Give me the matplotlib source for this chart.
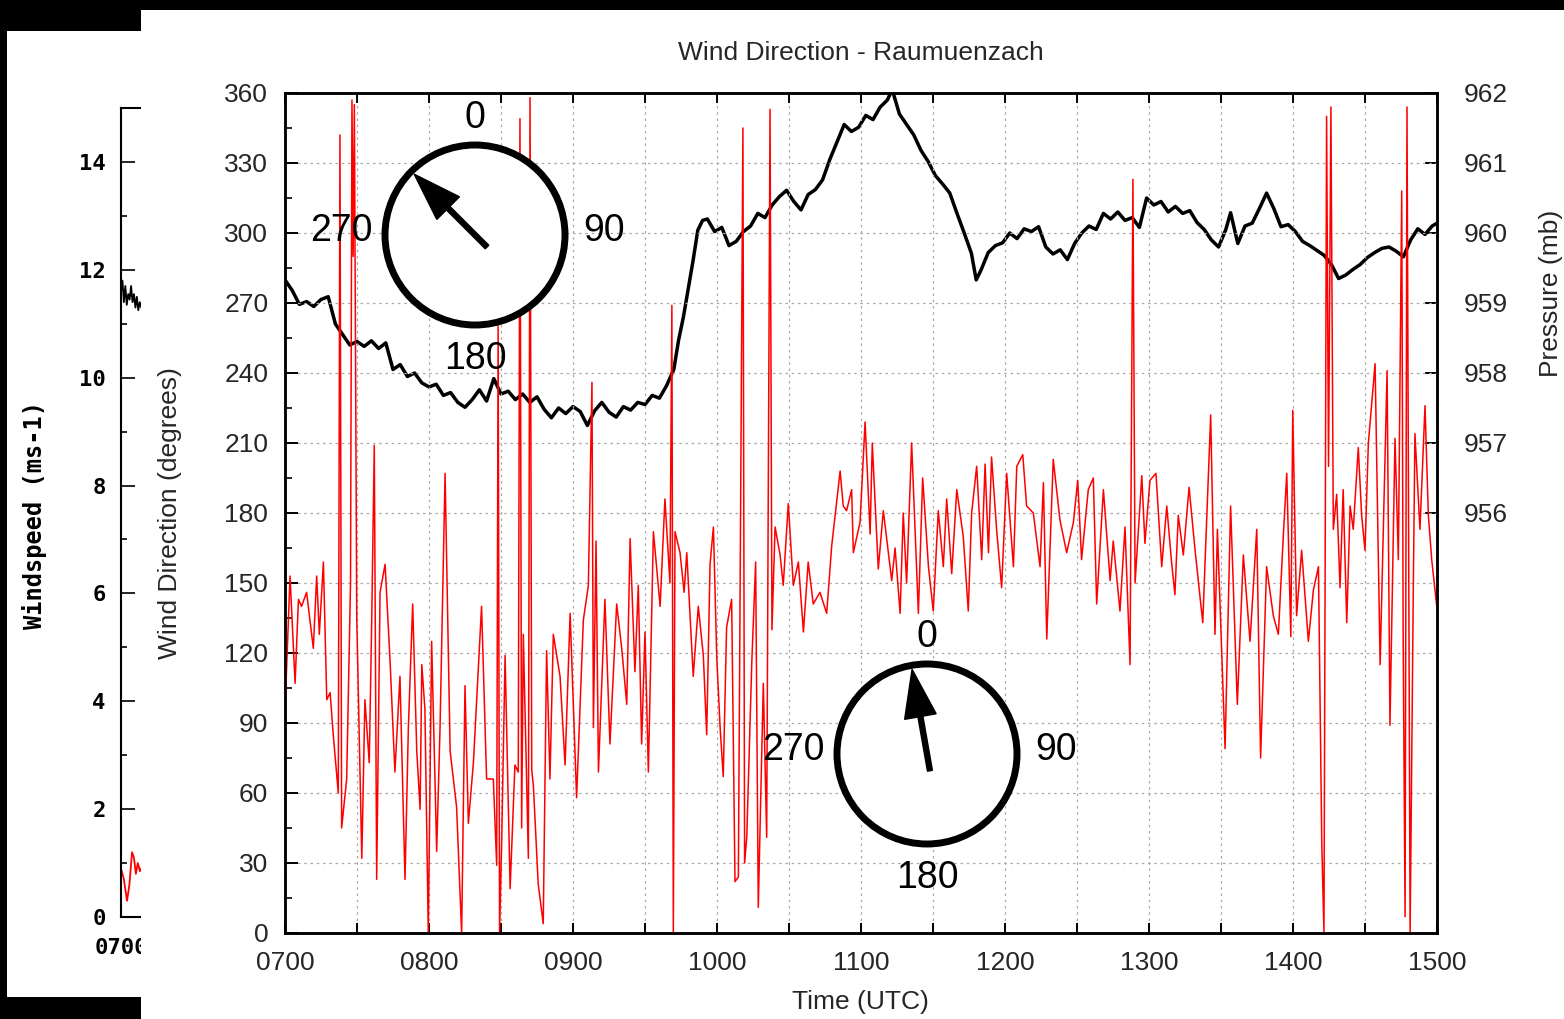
import matplotlib
matplotlib.use("Agg")
import matplotlib.pyplot as plt
from matplotlib.patches import Rectangle, Circle
from matplotlib.ticker import MultipleLocator
import numpy as np

plt.rcParams['font.family'] = ['Liberation Sans', 'DejaVu Sans']

W, H = 1564, 1019

# --- wind direction (red), minutes after 0700 ---
dir_min = [0, 2.1, 4.2, 5.6, 6.9, 9.0, 11.8, 13.2, 14.3, 16.0,
           17.4, 18.8, 20.1, 22.2, 22.9, 23.6, 25.7, 27.3, 27.9, 28.4,
           28.9, 29.9, 32.0, 33.3, 35.1, 36.1, 37.2, 38.2, 39.6, 41.7,
           43.8, 45.8, 47.9, 50.0, 51.4, 53.2, 54.9, 56.3, 57.0, 58.3,
           59.7, 61.1, 63.2, 64.6, 66.7, 68.8, 71.5, 73.6, 75.0, 76.4,
           78.5, 81.9, 84.0, 86.8, 88.2, 88.8, 89.4, 90.3, 91.7, 93.8,
           95.8, 97.2, 97.9, 98.6, 99.3, 101.4, 102.1, 102.8, 103.5, 105.5,
           107.6, 109.0, 110.4, 111.8, 114.6, 116.7, 118.8, 121.5, 124.3, 126.4,
           127.9, 128.5, 129.6, 130.6, 133.3, 135.4, 138.2, 140.3, 142.4, 143.8,
           145.8, 147.2, 148.6, 150.0, 151.4, 153.5, 156.3, 158.3, 160.4, 161.2,
           161.8, 162.5, 164.6, 166.3, 167.4, 170.1, 172.2, 174.3, 175.7, 177.1,
           178.5, 179.9, 181.3, 182.6, 184.0, 186.1, 187.5, 188.9, 190.8, 191.5,
           192.4, 194.5, 196.1, 197.2, 199.3, 200.7, 202.1, 202.9, 204.2, 206.3,
           207.6, 209.7, 211.8, 213.9, 216.0, 218.0, 220.1, 222.9, 225.7, 227.8,
           231.3, 232.6, 234.0, 236.1, 236.8, 239.6, 241.7, 243.8, 244.7, 247.2,
           249.3, 252.8, 254.2, 256.3, 257.6, 259.0, 261.1, 263.9, 265.7, 268.1,
           270.1, 272.2, 274.3, 275.7, 277.8, 279.9, 282.6, 284.7, 286.1, 288.2,
           290.3, 291.7, 293.1, 294.4, 296.5, 298.6, 300.7, 303.5, 304.9, 307.4,
           309.0, 311.8, 314.6, 316.0, 317.4, 320.1, 322.9, 325.7, 328.5, 330.3,
           331.9, 334.7, 336.8, 338.2, 341.0, 343.8, 345.1, 347.9, 350.0, 352.1,
           353.3, 354.2, 357.0, 358.3, 360.4, 362.9, 365.3, 367.4, 369.4, 370.8,
           372.2, 374.3, 376.7, 379.2, 382.4, 384.0, 385.7, 387.5, 388.5, 391.7,
           394.0, 396.8, 399.3, 402.1, 404.9, 406.5, 409.0, 411.8, 413.9, 416.0,
           417.4, 419.1, 419.9, 421.5, 423.6, 426.4, 428.5, 430.6, 432.0, 432.9,
           434.0, 434.8, 435.8, 436.8, 438.2, 439.6, 440.9, 442.4, 443.8, 445.1,
           447.2, 448.6, 450.0, 451.4, 454.2, 456.3, 459.2, 460.4, 462.5, 463.9,
           465.3, 465.9, 466.7, 467.5, 468.8, 470.1, 470.8, 472.9, 475.0, 476.4,
           477.8, 480.0]
dir_deg = [95, 153, 107, 143, 140, 146, 122, 153, 128, 159,
           100, 103, 85, 60, 342, 45, 66, 150, 357, 290,
           355, 135, 32, 100, 73, 132, 209, 23, 146, 158,
           116, 69, 110, 23, 88, 141, 78, 53, 115, 96,
           0, 125, 35, 88, 197, 78, 54, 0, 106, 47,
           73, 140, 66, 66, 29, 260, 0, 40, 119, 19,
           72, 69, 349, 45, 128, 32, 358, 70, 63, 21,
           4, 121, 66, 128, 110, 72, 137, 58, 134, 149,
           236, 88, 168, 69, 143, 81, 141, 122, 98, 169,
           112, 149, 81, 129, 69, 172, 140, 186, 150, 269,
           0, 172, 163, 146, 163, 110, 140, 119, 85, 158,
           174, 118, 88, 67, 131, 143, 22, 24, 345, 30,
           41, 116, 159, 11, 107, 41, 353, 130, 174, 162,
           149, 184, 149, 159, 129, 159, 141, 146, 137, 166,
           198, 183, 181, 190, 163, 176, 219, 171, 210, 156,
           181, 151, 165, 137, 180, 150, 210, 137, 195, 157,
           138, 181, 157, 186, 154, 190, 170, 138, 180, 200,
           160, 201, 163, 204, 173, 148, 197, 157, 200, 205,
           183, 180, 157, 193, 126, 203, 177, 163, 176, 194,
           160, 190, 195, 141, 190, 151, 168, 138, 174, 115,
           323, 150, 196, 167, 194, 197, 157, 183, 159, 145,
           179, 162, 191, 164, 133, 176, 222, 128, 173, 79,
           183, 98, 162, 125, 173, 75, 157, 136, 128, 171,
           197, 127, 224, 136, 164, 125, 147, 157, 38, 0,
           350, 200, 354, 173, 188, 148, 190, 133, 183, 173,
           208, 179, 164, 210, 244, 115, 241, 89, 212, 160,
           318, 127, 7, 354, 0, 145, 214, 173, 226, 179,
           160, 139]

# --- pressure (black), minutes after 0700 ---
pres_min = [0, 3, 6, 9, 12, 15, 18, 21, 24, 27,
            30, 33, 36, 39, 42, 45, 48, 51, 54, 57,
            60, 63, 66, 69, 72, 75, 78, 81, 84, 87,
            90, 93, 96, 99, 102, 105, 108, 111, 114, 117,
            120, 123, 126, 129, 132, 135, 138, 141, 144, 147,
            150, 153, 156, 159, 162, 164, 166, 168, 170, 172,
            174, 176, 179, 182, 185, 188, 191, 194, 197, 200,
            203, 206, 209, 212, 215, 218, 221, 224, 227, 230,
            233, 236, 239, 242, 245, 248, 251, 253, 256, 259,
            262, 265, 268, 271, 274, 277, 280, 283, 286, 288,
            290, 293, 296, 299, 302, 305, 308, 311, 314, 317,
            320, 323, 326, 329, 332, 335, 338, 341, 344, 347,
            350, 353, 356, 359, 362, 365, 368, 371, 374, 377,
            380, 383, 386, 389, 392, 394, 397, 400, 403, 406,
            409, 412, 415, 418, 421, 424, 427, 430, 433, 436,
            439, 442, 445, 448, 451, 454, 457, 460, 463, 466,
            469, 472, 475, 478, 480]
pres_mb = [959.33, 959.18, 958.98, 959.02, 958.95, 959.05, 959.09, 958.70, 958.55, 958.40,
           958.45, 958.38, 958.46, 958.35, 958.43, 958.05, 958.12, 957.95, 958.00, 957.86,
           957.80, 957.84, 957.68, 957.72, 957.58, 957.51, 957.62, 957.76, 957.60, 957.92,
           957.70, 957.74, 957.62, 957.70, 957.58, 957.66, 957.48, 957.36, 957.50, 957.42,
           957.52, 957.45, 957.25, 957.46, 957.58, 957.44, 957.37, 957.52, 957.47, 957.58,
           957.55, 957.68, 957.64, 957.82, 958.05, 958.47, 958.80, 959.20, 959.60, 960.04,
           960.18, 960.20, 960.02, 960.08, 959.82, 959.88, 960.02, 960.10, 960.28, 960.22,
           960.40, 960.52, 960.61, 960.45, 960.33, 960.55, 960.62, 960.76, 961.05, 961.30,
           961.55, 961.45, 961.51, 961.68, 961.62, 961.80, 961.90, 962.05, 961.70, 961.55,
           961.40, 961.18, 961.02, 960.82, 960.70, 960.57, 960.28, 960.00, 959.71, 959.33,
           959.47, 959.72, 959.82, 959.86, 960.00, 959.92, 960.06, 960.02, 960.09, 959.80,
           959.70, 959.76, 959.62, 959.85, 960.00, 960.10, 960.05, 960.28, 960.20, 960.30,
           960.18, 960.22, 960.08, 960.50, 960.40, 960.45, 960.30, 960.38, 960.28, 960.32,
           960.15, 960.05, 959.90, 959.80, 960.05, 960.29, 959.85, 960.10, 960.14, 960.35,
           960.57, 960.35, 960.09, 960.12, 960.02, 959.88, 959.82, 959.75, 959.68, 959.55,
           959.35, 959.40, 959.48, 959.55, 959.65, 959.72, 959.78, 959.80, 959.74, 959.66,
           959.90, 960.06, 959.98, 960.10, 960.14]

# --- windspeed chart behind (only its first minutes show) ---
ws_min = [0, 0.6, 1.2, 1.8, 2.4, 3.0, 3.6, 4.2, 4.8, 5.4, 6.0, 6.6, 7.2, 7.8, 8.5]
ws_black = [11.6, 11.8, 11.4, 11.7, 11.35, 11.55, 11.45, 11.7, 11.4, 11.55, 11.3, 11.5, 11.25, 11.4, 11.3]
ws_red_min = [0, 1.2, 2.5, 3.5, 4.6, 5.4, 6.2, 7.0, 7.9, 8.5]
ws_red = [0.9, 0.7, 0.3, 0.6, 1.2, 1.1, 0.8, 1.0, 0.85, 0.9]

hour_ticks = [0, 60, 120, 180, 240, 300, 360, 420, 480]
hour_labels = ['0700', '0800', '0900', '1000', '1100', '1200', '1300', '1400', '1500']
deg_ticks = [0, 30, 60, 90, 120, 150, 180, 210, 240, 270, 300, 330, 360]
pres_ticks = [956, 957, 958, 959, 960, 961, 962]
ws_ticks = [0, 2, 4, 6, 8, 10, 12, 14]

# compass insets: centre (pixels), shown direction
compass_xy = [(475, 235), (927, 754)]
compass_dirs = [315, 350]

txt = '#262626'

fig = plt.figure(figsize=(W / 100, H / 100), dpi=100, facecolor='black')

# white paper panels on the black background
fig.add_artist(Rectangle((7 / W, (H - 997) / H), 134 / W, 966 / H, transform=fig.transFigure,
                         facecolor='white', edgecolor='none', zorder=-1))
fig.add_artist(Rectangle((141 / W, 0), (W - 141) / W, (H - 10) / H, transform=fig.transFigure,
                         facecolor='white', edgecolor='none', zorder=1))

# partially hidden windspeed chart
mono = dict(family='DejaVu Sans Mono', weight='bold', size=16)
axw = fig.add_axes([121 / W, (H - 917) / H, 1152 / W, 809 / H], zorder=0)
axw.plot(ws_min, ws_black, color='black', lw=1.3)
axw.plot(ws_red_min, ws_red, color='red', lw=1.3)
axw.set_xlim(0, 480)
axw.set_ylim(0, 15)
axw.set_yticks(ws_ticks)
axw.set_yticklabels([str(v) for v in ws_ticks], fontdict=mono)
axw.yaxis.set_minor_locator(MultipleLocator(1))
axw.set_xticks([0])
axw.set_xticklabels(['0700'], fontdict=mono)
axw.tick_params(axis='y', which='major', direction='in', length=10, width=1.2, pad=11)
axw.tick_params(axis='y', which='minor', direction='in', length=4.5, width=1.2)
axw.tick_params(axis='x', direction='in', length=0, pad=15)
for s in axw.spines.values():
    s.set_linewidth(1.5)
axw.text(-0.0747, 0.497, 'Windspeed (ms-1)', transform=axw.transAxes, rotation=90,
         ha='center', va='center', family='DejaVu Sans Mono', weight='bold', size=17)

# main chart
rect = [285 / W, (H - 933) / H, 1152 / W, 840 / H]
ax = fig.add_axes(rect)
ax2 = ax.twinx()
ax2.set_zorder(2)
ax.set_zorder(3)
ax.patch.set_visible(False)
ax2.patch.set_visible(True)
ax2.patch.set_facecolor('white')

ax2.plot(pres_min, pres_mb, color='black', lw=2.5)
ax.plot(dir_min, dir_deg, color='red', lw=1.1)

ax.set_xlim(0, 480)
ax.set_ylim(0, 360)
ax2.set_ylim(950, 962)

ax.set_xticks(hour_ticks)
ax.set_xticklabels(hour_labels)
ax.xaxis.set_minor_locator(MultipleLocator(30))
ax.set_yticks(deg_ticks)
ax.yaxis.set_minor_locator(MultipleLocator(15))
ax2.set_yticks(pres_ticks)

ax.tick_params(axis='x', which='both', direction='in', top=True, bottom=True,
               length=7, width=1.4, labelsize=19, labelcolor=txt, pad=13)
ax.tick_params(axis='y', which='major', direction='in', left=True, right=False,
               length=9, width=1.4, labelsize=19, labelcolor=txt, pad=12)
ax.tick_params(axis='y', which='minor', direction='in', left=True, right=False,
               length=5, width=1.2)
ax2.tick_params(axis='y', which='major', direction='in', length=9, width=1.4,
                labelsize=19, labelcolor=txt, pad=19)

grid_kw = dict(color='#a8a8a8', linestyle=(0, (2, 3)), linewidth=0.9)
ax.grid(True, which='major', axis='y', **grid_kw)
ax.grid(True, which='both', axis='x', **grid_kw)

for a in (ax, ax2):
    for s in a.spines.values():
        s.set_linewidth(1.8)

ax.text(0.5, (933 - 53) / 840, 'Wind Direction - Raumuenzach', transform=ax.transAxes,
        ha='center', va='center', fontsize=19, color=txt)
ax.text(0.4991, (933 - 1002) / 840, 'Time (UTC)', transform=ax.transAxes,
        ha='center', va='center', fontsize=19, color=txt)
ax.text((170 - 285) / 1152, 0.5, 'Wind Direction (degrees)', transform=ax.transAxes,
        rotation=90, ha='center', va='center', fontsize=19, color=txt)
ax.text((1551 - 285) / 1152, (933 - 293) / 840, 'Pressure (mb)', transform=ax.transAxes,
        rotation=90, ha='center', va='center', fontsize=19, color=txt)

# compass overlays, drawn in pixel space
ov = fig.add_axes([0, 0, 1, 1], zorder=4)
ov.set_xlim(0, W)
ov.set_ylim(H, 0)
ov.axis('off')
ov.patch.set_visible(False)
offsets = [('0', 0, -117), ('90', 129, -4), ('180', 0, 124), ('270', -134, -4)]
for (cx, cy), d in zip(compass_xy, compass_dirs):
    ov.add_patch(Circle((cx, cy), 90, facecolor='white', edgecolor='black', lw=5))
    ux, uy = np.sin(np.radians(d)), -np.cos(np.radians(d))
    ov.arrow(cx - 17 * ux, cy - 17 * uy, 103 * ux, 103 * uy, width=5, head_width=32,
             head_length=48, length_includes_head=True, color='black')
    for lab, dx, dy in offsets:
        ov.text(cx + dx, cy + dy, lab, fontsize=27, ha='center', va='center', color='black')

fig.savefig('out.png', dpi=100, facecolor=fig.get_facecolor())
